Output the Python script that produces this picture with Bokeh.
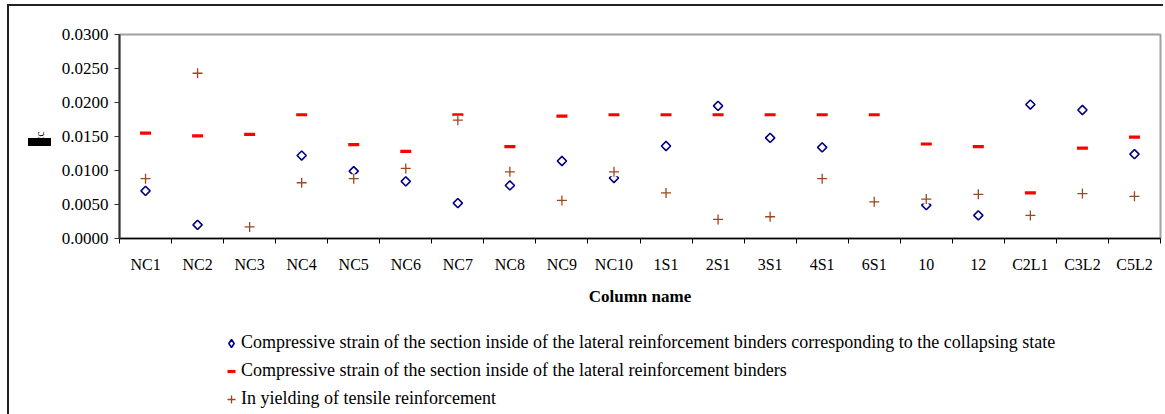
import math
from bokeh.plotting import figure
from bokeh.layouts import column
from bokeh.models import (ColumnDataSource, FixedTicker, NumeralTickFormatter, Legend,
                          LegendItem, Range1d, InlineStyleSheet)
from bokeh.embed import file_html
from bokeh.resources import INLINE

columns = ["NC1", "NC2", "NC3", "NC4", "NC5", "NC6", "NC7", "NC8", "NC9", "NC10",
           "1S1", "2S1", "3S1", "4S1", "6S1", "10", "12", "C2L1", "C3L2", "C5L2"]
nan = float("nan")
collapse_strain = [0.0070, 0.0020, nan, 0.0122, 0.0099, 0.0084, 0.0052, 0.0078, 0.0114, 0.0089,
                   0.0136, 0.0195, 0.0148, 0.0134, nan, 0.0049, 0.0034, 0.0197, 0.0189, 0.0124]
binder_strain = [0.0155, 0.0151, 0.0153, 0.0182, 0.0138, 0.0128, 0.0182, 0.0135, 0.0180, 0.0182,
                 0.0182, 0.0182, 0.0182, 0.0182, 0.0182, 0.0139, 0.0135, 0.0067, 0.0133, 0.0149]
yield_strain = [0.0088, 0.0243, 0.0017, 0.0082, 0.0088, 0.0103, 0.0174, 0.0098, 0.0056, 0.0098,
                0.0067, 0.0028, 0.0032, 0.0088, 0.0054, 0.0058, 0.0065, 0.0034, 0.0066, 0.0062]
y_ticks = [0.0, 0.005, 0.010, 0.015, 0.020, 0.025, 0.030]
series_names = [
    "Compressive strain of the section inside of the lateral reinforcement binders corresponding to the collapsing state",
    "Compressive strain of the section inside of the lateral reinforcement binders",
    "In yielding of tensile reinforcement",
]

x = [i + 0.5 for i in range(len(columns))]
src = ColumnDataSource(dict(x=x, c=collapse_strain, b=binder_strain, t=yield_strain))

FONT = "Liberation Serif"
BLUE, RED, BROWN = "#000080", "#FF0000", "#A0461E"
DIAMOND = dict(marker="square", angle=math.pi / 4, size=6.5, fill_color="white",
               line_color=BLUE, line_width=1.6)
DASH = dict(marker="dash", size=11, line_color=RED, line_width=3.2)
CROSS = dict(marker="cross", size=10, line_color=BROWN, line_width=1.3)

css_top = InlineStyleSheet(css="""
:host { position: relative; }
:host::before { content: ''; position: absolute; left: 7px; top: 4px; right: 0; bottom: 0;
  border-left: 2px solid #222; border-top: 2px solid #222; pointer-events: none; z-index: 5; }
:host::after { content: ''; position: absolute; left: 28px; top: 138px; width: 23px; height: 8px;
  background: #000; pointer-events: none; z-index: 5; }
""")
css_bottom = InlineStyleSheet(css="""
:host { position: relative; }
:host::before { content: ''; position: absolute; left: 7px; top: 0; right: 0; bottom: 0;
  border-left: 2px solid #222; pointer-events: none; z-index: 5; }
""")

p = figure(width=1163, height=314, output_backend="svg", toolbar_location=None,
           x_range=Range1d(0, len(columns)), y_range=Range1d(0, 0.03),
           min_border_left=119, min_border_right=3, min_border_top=34, min_border_bottom=76)
p.stylesheets = [css_top]
p.grid.visible = False
p.outline_line_color = "#A0A0A0"
p.outline_line_width = 2

p.scatter("x", "c", source=src, **DIAMOND)
p.scatter("x", "b", source=src, **DASH)
p.scatter("x", "t", source=src, marker="square", size=9, fill_color="white", line_color=None)
p.scatter("x", "t", source=src, **CROSS)

# x axis
xa = p.xaxis[0]
xa.ticker = FixedTicker(ticks=x, minor_ticks=list(range(len(columns) + 1)))
xa.major_label_overrides = {xi: name for xi, name in zip(x, columns)}
xa.major_tick_out = 0
xa.major_tick_in = 0
xa.minor_tick_out = 5
xa.minor_tick_in = 0
xa.minor_tick_line_color = "black"
xa.axis_line_color = "black"
xa.axis_line_width = 1.5
xa.major_label_standoff = 12
xa.major_label_text_font = FONT
xa.major_label_text_font_size = "16px"
xa.major_label_text_color = "black"
xa.axis_label = "Column name"
xa.axis_label_text_font = FONT
xa.axis_label_text_font_size = "17px"
xa.axis_label_text_font_style = "bold"
xa.axis_label_text_color = "black"
xa.axis_label_standoff = 11

ya = p.yaxis[0]
ya.ticker = FixedTicker(ticks=y_ticks)
ya.formatter = NumeralTickFormatter(format="0.0000")
ya.major_tick_out = 5
ya.major_tick_in = 0
ya.minor_tick_out = 0
ya.minor_tick_in = 0
ya.axis_line_color = "#333333"
ya.axis_line_width = 2
ya.major_tick_line_color = "#333333"
ya.major_label_standoff = 6
ya.major_label_text_font = FONT
ya.major_label_text_font_size = "17px"
ya.major_label_text_color = "black"
ya.axis_label = "εc"
ya.axis_label_text_font = FONT
ya.axis_label_text_font_size = "12px"
ya.axis_label_text_font_style = "normal"
ya.axis_label_text_color = "black"
ya.axis_label_standoff = 12

# legend panel below the chart: same series, drawn outside this panel's view
q = figure(width=1163, height=100, output_backend="svg", toolbar_location=None,
           x_range=Range1d(0, len(columns)), y_range=Range1d(1, 2),
           x_axis_location=None, y_axis_location=None,
           min_border=0, outline_line_color=None)
q.stylesheets = [css_bottom]
q.grid.visible = False
l1 = q.scatter("x", "c", source=src, marker="diamond", fill_color="white",
               line_color=BLUE, line_width=1.6)
l2 = q.scatter("x", "b", source=src, marker="dash", line_color=RED, line_width=3.2)
l3 = q.scatter("x", "t", source=src, marker="cross", line_color=BROWN, line_width=1.3)

legend = Legend(items=[LegendItem(label=n, renderers=[r], index=1)
                       for n, r in zip(series_names, [l1, l2, l3])],
                location=(102, 5), orientation="vertical", border_line_alpha=0,
                background_fill_alpha=0, label_text_font=FONT, label_text_font_size="18px",
                label_text_color="black", glyph_width=20, glyph_height=20, label_height=20,
                label_standoff=0, spacing=7, padding=0, margin=0)
q.add_layout(legend, "center")

open("out.html", "w").write(file_html(column(p, q, spacing=0), INLINE))
